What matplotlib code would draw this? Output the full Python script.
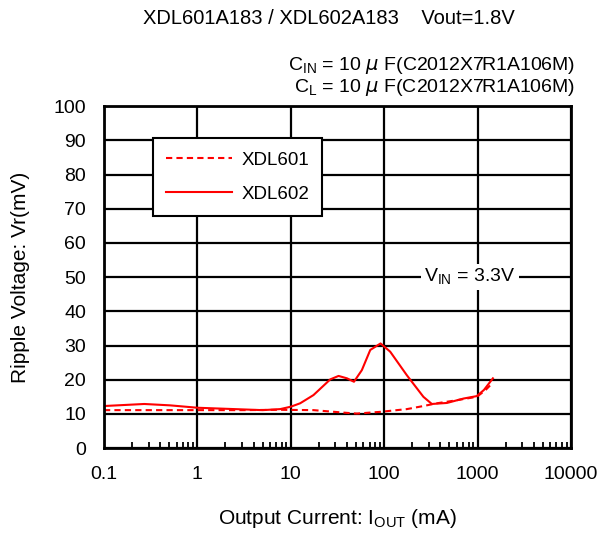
import numpy as np
import matplotlib
matplotlib.use("Agg")
import matplotlib.pyplot as plt
from matplotlib.ticker import FixedLocator, NullFormatter, LogLocator

plt.rcParams['font.family'] = ['Liberation Sans', 'DejaVu Sans']

# XDL601 (dashed) ripple vs output current (mA -> mV)
i601 = [0.1, 0.3, 1, 3, 7.7, 17.5, 40, 51, 91, 175, 263, 366, 600, 980, 1200, 1430]
v601 = [11.1, 11.1, 11.1, 11.1, 11.2, 11.1, 10.3, 10.1, 10.6, 11.4, 12.3, 13.1, 14.0, 15.0, 16.8, 18.9]

# XDL602 (solid)
i602 = [0.1, 0.27, 0.51, 1, 2, 5, 7.7, 10, 12.6, 17.5, 26.5, 32.5, 40, 47.5, 57.7, 71,
        91.5, 116, 175, 263, 324, 470, 710, 980, 1170, 1460]
v602 = [12.3, 12.9, 12.5, 11.8, 11.5, 11.1, 11.4, 12.1, 13.1, 15.5, 20.1, 21.1, 20.4, 19.4, 22.8, 28.7,
        30.6, 28.2, 21.3, 15.0, 12.9, 13.2, 14.5, 15.2, 17.0, 20.4]

xticks = [0.1, 1, 10, 100, 1000, 10000]
xlabels = ['0.1', '1', '10', '100', '1000', '10000']
yticks = list(range(0, 101, 10))

fig = plt.figure(figsize=(6.01, 5.36), dpi=100)
ax = fig.add_axes([0.173, 0.164, 0.777, 0.638])

ax.plot(i601, v601, color='red', linestyle=(0, (3, 2)), lw=1.5, label='XDL601')
ax.plot(i602, v602, color='red', linestyle='-', lw=1.5, label='XDL602',
        solid_joinstyle='round')

ax.set_xscale('log')
ax.set_xlim(0.1, 10000)
ax.set_ylim(0, 100)
ax.xaxis.set_major_locator(FixedLocator(xticks))
ax.set_xticklabels(xlabels)
ax.xaxis.set_minor_locator(LogLocator(base=10, subs=np.arange(2, 10)))
ax.xaxis.set_minor_formatter(NullFormatter())
ax.set_yticks(yticks)
ax.grid(True, which='major', color='black', lw=1.6)
ax.tick_params(axis='both', which='major', length=0, labelsize=14)
ax.tick_params(axis='x', which='major', pad=13)
ax.tick_params(axis='y', which='major', pad=13)
ax.tick_params(axis='x', which='minor', direction='in', length=4, width=1.3)
for s in ax.spines.values():
    s.set_linewidth(2)

ax.set_xlabel('Output Current: I$_{\\mathregular{OUT}}$ (mA)', fontsize=15, labelpad=17)
ax.set_ylabel('Ripple Voltage: Vr(mV)', fontsize=15, labelpad=17)

leg = ax.legend(loc='upper left', bbox_to_anchor=(0.105, 0.906), borderaxespad=0,
                fontsize=13.5, frameon=True, fancybox=False, edgecolor='black', framealpha=1,
                handlelength=3.5, handletextpad=0.5, labelspacing=0.9,
                borderpad=0.7)
leg.get_frame().set_linewidth(1.5)

ax.text(830, 50, 'V$_{\\mathregular{IN}}$ = 3.3V', fontsize=14, ha='center', va='center',
        bbox=dict(facecolor='white', edgecolor='none', pad=2))

fig.text(0.548, 0.966, 'XDL601A183 / XDL602A183    Vout=1.8V', fontsize=14.5, ha='center', va='center')
fig.text(0.957, 0.878, 'C$_{\\mathregular{IN}}$ = 10 $\\mu$ F(C2012X7R1A106M)', fontsize=14, ha='right', va='center')
fig.text(0.957, 0.836, 'C$_{\\mathregular{L}}$ = 10 $\\mu$ F(C2012X7R1A106M)', fontsize=14, ha='right', va='center')

fig.savefig('out.png', dpi=100)
